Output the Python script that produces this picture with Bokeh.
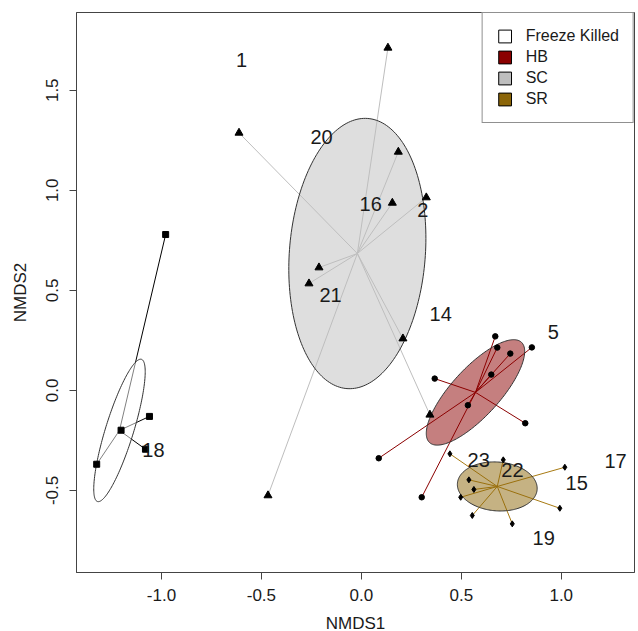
import numpy as np
from bokeh.plotting import figure
from bokeh.models import Range1d, FixedTicker, Legend, LegendItem
from bokeh.core.properties import value
from bokeh.embed import file_html
from bokeh.resources import INLINE

# ---------------- data ----------------
groups = ["Freeze Killed", "HB", "SC", "SR"]
group_colors = ["#FFFFFF", "#8B0000", "#BEBEBE", "#8B6508"]

fk_x = [-0.979, -1.202, -1.060, -1.080, -1.324]
fk_y = [0.779, -0.199, -0.130, -0.294, -0.369]

hb_x = [0.670, 0.680, 0.745, 0.853, 0.650, 0.367, 0.533, 0.820, 0.087, 0.302]
hb_y = [0.270, 0.214, 0.184, 0.215, 0.079, 0.059, -0.074, -0.164, -0.339, -0.534]

sc_x = [0.133, -0.612, 0.185, 0.155, 0.325, -0.212, -0.262, 0.208, 0.343, -0.467]
sc_y = [1.712, 1.287, 1.192, 0.937, 0.964, 0.614, 0.534, 0.259, -0.122, -0.525]

sr_x = [0.443, 0.710, 1.018, 0.538, 0.563, 0.497, 0.555, 0.755, 0.993]
sr_y = [-0.317, -0.347, -0.384, -0.447, -0.495, -0.534, -0.625, -0.667, -0.589]

# group centroids (spider centres / ellipse centres)
centroid_x = [-1.210, 0.571, -0.020, 0.680]
centroid_y = [-0.200, -0.010, 0.684, -0.480]

# ellipse semi-axes (data units) and rotation (degrees)
ellipse_a = [0.372, 0.340, 0.677, 0.200]
ellipse_b = [0.070, 0.120, 0.340, 0.122]
ellipse_angle = [72.8, 47.5, 85.6, -4.5]

# site labels
label_text = ["1", "20", "16", "2", "21", "14", "5", "18", "23", "22", "17", "15", "19"]
label_x = [-0.599, -0.199, 0.047, 0.307, -0.154, 0.397, 0.960, -1.040, 0.587, 0.756, 1.272, 1.077, 0.912]
label_y = [1.650, 1.268, 0.930, 0.900, 0.479, 0.384, 0.290, -0.300, -0.350, -0.397, -0.353, -0.462, -0.740]

x_ticks = [-1.0, -0.5, 0.0, 0.5, 1.0]
x_tick_labels = ["-1.0", "-0.5", "0.0", "0.5", "1.0"]
y_ticks = [-0.5, 0.0, 0.5, 1.0, 1.5]
y_tick_labels = ["-0.5", "0.0", "0.5", "1.0", "1.5"]

FONT = "Liberation Sans"

# ---------------- figure ----------------
p = figure(width=638, height=637, output_backend="svg", toolbar_location=None,
           x_range=Range1d(-1.425, 1.3665), y_range=Range1d(-0.91, 1.8885),
           min_border_left=76, min_border_right=4, min_border_top=12, min_border_bottom=65,
           background_fill_color="white", border_fill_color="white")
p.grid.visible = False
p.outline_line_color = "#444444"
p.outline_line_width = 1

for ax in (p.xaxis[0], p.yaxis[0]):
    ax.axis_line_color = "#444444"
    ax.major_tick_line_color = "#444444"
    ax.minor_tick_line_color = None
    ax.major_tick_in = 0
    ax.major_tick_out = 7
    ax.major_label_text_font = FONT
    ax.major_label_text_font_size = "17px"
    ax.major_label_text_color = "#1a1a1a"
    ax.axis_label_text_font = FONT
    ax.axis_label_text_font_size = "17px"
    ax.axis_label_text_font_style = "normal"
    ax.axis_label_text_color = "#1a1a1a"

p.xaxis.ticker = FixedTicker(ticks=x_ticks)
p.xaxis.major_label_overrides = dict(zip(x_ticks, x_tick_labels))
p.yaxis.ticker = FixedTicker(ticks=y_ticks)
p.yaxis.major_label_overrides = dict(zip(y_ticks, y_tick_labels))
p.xaxis.axis_label = "NMDS1"
p.yaxis.axis_label = "NMDS2"
p.yaxis.major_label_orientation = "vertical"
p.xaxis.major_label_standoff = 9
p.yaxis.major_label_standoff = 11
p.xaxis.axis_label_standoff = 10
p.yaxis.axis_label_standoff = 14

group_x = [fk_x, hb_x, sc_x, sr_x]
group_y = [fk_y, hb_y, sc_y, sr_y]
spider_colors = ["#000000", "#8B0000", "#BEBEBE", "#A87A12"]

# spiders
for gx, gy, cx, cy, sc in zip(group_x, group_y, centroid_x, centroid_y, spider_colors):
    p.segment(x0=[cx] * len(gx), y0=[cy] * len(gy), x1=gx, y1=gy,
              line_color=sc, line_width=1)

# ellipses
t = np.linspace(0, 2 * np.pi, 200)
for cx, cy, a, b, ang, col in zip(centroid_x, centroid_y, ellipse_a, ellipse_b,
                                   ellipse_angle, group_colors):
    th = np.deg2rad(ang)
    ex = cx + a * np.cos(t) * np.cos(th) - b * np.sin(t) * np.sin(th)
    ey = cy + a * np.cos(t) * np.sin(th) + b * np.sin(t) * np.cos(th)
    p.patch(x=ex, y=ey, fill_color=col, fill_alpha=0.5,
            line_color="#333333", line_width=1)

# points
p.scatter(fk_x, fk_y, marker="square", size=6, color="black")
p.scatter(hb_x, hb_y, marker="circle", size=5.5, color="black")
p.scatter(sc_x, sc_y, marker="triangle", size=8, color="black")
p.scatter(sr_x, sr_y, marker="diamond", size=6, color="black")

# labels
p.text(x=label_x, y=label_y, text=label_text, text_font=value(FONT),
       text_font_size="20px", text_align="center", text_baseline="middle",
       text_color="#1a1a1a")

# legend (swatch renderers hold no visible geometry)
items = []
for g, c in zip(groups, group_colors):
    r = p.quad(left=[np.nan], right=[np.nan], top=[np.nan], bottom=[np.nan],
               fill_color=c, line_color="black", line_width=1)
    items.append(LegendItem(label=g, renderers=[r]))
legend = Legend(items=items, location="top_right", margin=0, padding=14, spacing=3,
                glyph_width=16, glyph_height=16, label_height=16, label_standoff=13,
                label_text_font=FONT, label_text_font_size="16px",
                label_text_color="#1a1a1a",
                border_line_color="#222222", border_line_width=1,
                background_fill_color="white", background_fill_alpha=1.0)
p.add_layout(legend)

open("out.html", "w").write(file_html(p, INLINE))
